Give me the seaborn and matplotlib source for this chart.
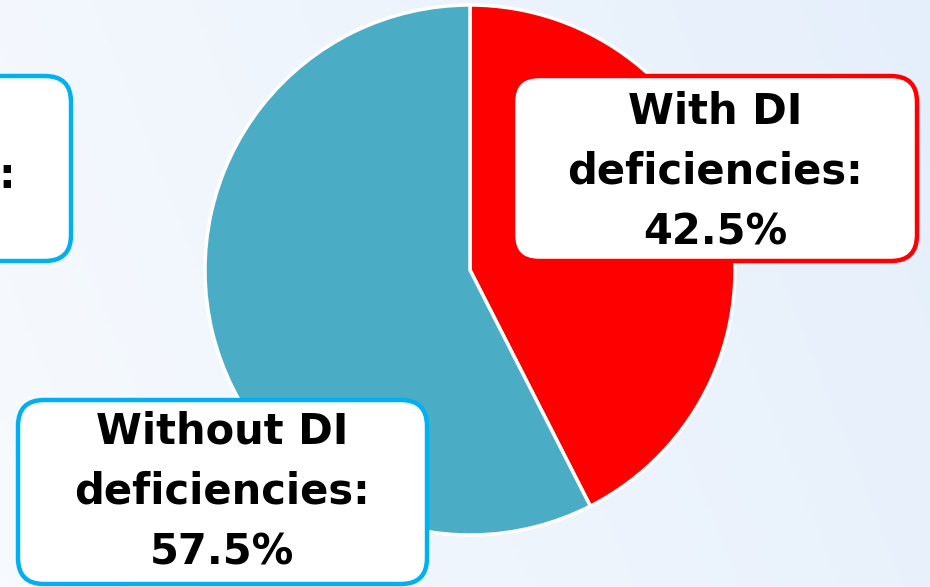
import numpy as np
import matplotlib
matplotlib.use("Agg")
import matplotlib.pyplot as plt
import seaborn as sns
from matplotlib.patches import FancyBboxPatch

categories = ["With DI deficiencies", "Without DI deficiencies"]
shares = [42.5, 57.5]
label_texts = ["With DI\ndeficiencies:\n42.5%", "Without DI\ndeficiencies:\n57.5%"]

sns.set_theme(style="white")
plt.rcParams['font.family'] = ['DejaVu Sans']

W, H = 930, 587
colors = ["#FF0000", "#4BACC6"]
box_edges = ["#FF0000", "#00B0F0"]

fig = plt.figure(figsize=(W / 100, H / 100), dpi=100)
ax = fig.add_axes([0, 0, 1, 1])

def Y(y):
    return H - y

# background gradient
xx, yy = np.meshgrid(np.linspace(0, 1, 200), np.linspace(0, 1, 120))
t = np.clip(0.8 * xx + 0.2 * (1 - yy), 0, 1)
c0 = np.array([247, 250, 254]) / 255
c1 = np.array([229, 239, 251]) / 255
img = c0[None, None, :] * (1 - t[..., None]) + c1[None, None, :] * t[..., None]
ax.imshow(img, extent=(0, W, 0, H), origin="upper", aspect="auto", zorder=0)

ax.pie(shares, colors=colors, startangle=90, counterclock=False,
       center=(470, Y(270)), radius=265,
       wedgeprops=dict(edgecolor="white", linewidth=2.5), frame=False)

def box(x0, y0, x1, y1, ec):
    p = FancyBboxPatch((x0, Y(y1)), x1 - x0, y1 - y0,
                       boxstyle="round,pad=0,rounding_size=26",
                       fc="white", ec=ec, lw=3.2, zorder=5)
    ax.add_patch(p)

# right box (With DI)
box(513, 76, 917, 261, box_edges[0])
ax.text(715, Y(172), label_texts[0], ha="center", va="center", ma="center",
        fontsize=30, fontweight="bold", color="black", linespacing=1.55, zorder=6)

# bottom-left box (Without DI)
box(18, 400, 427, 584, box_edges[1])
ax.text(222, Y(492), label_texts[1], ha="center", va="center", ma="center",
        fontsize=30, fontweight="bold", color="black", linespacing=1.55, zorder=6)

# partially visible left box
box(-400, 76, 71, 261, box_edges[1])
ax.text(7, Y(188), ":", ha="center", va="baseline",
        fontsize=30, fontweight="bold", color="black", zorder=6)

ax.set_xlim(0, W)
ax.set_ylim(0, H)
ax.set_aspect("auto")
ax.axis("off")

fig.savefig("out.png", dpi=100)
